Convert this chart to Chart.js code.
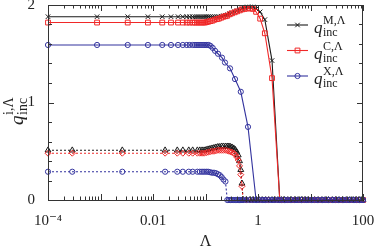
<!DOCTYPE html>
<html>
<head>
<meta charset="utf-8">
<script src="https://cdn.jsdelivr.net/npm/chart.js@4.4.1/dist/chart.umd.min.js"></script>
<style>
  html, body { margin: 0; padding: 0; background: #fff; }
  canvas { display: block; }
</style>
</head>
<body>
<canvas id="myChart1" width="374" height="247"></canvas>
<script>
// solid curves M and C share one Lambda grid
const lambdaMC = [
  1e-4, 8.6e-4, 3.3e-3, 8e-3, 0.015, 0.022, 0.03, 0.037, 0.044, 0.05,
  0.057, 0.063, 0.069, 0.075, 0.082, 0.09, 0.098, 0.106, 0.115, 0.125,
  0.137, 0.15, 0.165, 0.18, 0.2, 0.22, 0.24, 0.26, 0.29, 0.32,
  0.36, 0.4, 0.45, 0.5, 0.56, 0.63, 0.71, 0.8, 0.92, 1.1,
  1.35, 1.85, 2.6, 3.3, 4.2, 5.3, 6.7, 8.5, 10.7, 13.5,
  17, 21.5, 27, 34, 43, 54, 68, 86, 100
];
const qM = [
  1.88, 1.88, 1.88, 1.88, 1.88, 1.88, 1.88, 1.88, 1.88, 1.88,
  1.88, 1.88, 1.88, 1.88, 1.88, 1.88, 1.88, 1.88, 1.88, 1.88,
  1.88, 1.88, 1.88, 1.88, 1.885, 1.89, 1.895, 1.90, 1.91, 1.92,
  1.93, 1.94, 1.95, 1.96, 1.97, 1.98, 1.98, 1.98, 1.96, 1.93,
  1.85, 1.43, 0, 0, 0, 0, 0, 0, 0, 0,
  0, 0, 0, 0, 0, 0, 0, 0, 0
];
const qC = [
  1.82, 1.82, 1.82, 1.82, 1.82, 1.82, 1.82, 1.82, 1.82, 1.82,
  1.82, 1.82, 1.82, 1.82, 1.82, 1.82, 1.82, 1.825, 1.83, 1.835,
  1.84, 1.85, 1.855, 1.86, 1.87, 1.88, 1.885, 1.89, 1.905, 1.915,
  1.925, 1.935, 1.945, 1.955, 1.96, 1.965, 1.965, 1.96, 1.93, 1.86,
  1.71, 1.25, 0, 0, 0, 0, 0, 0, 0, 0,
  0, 0, 0, 0, 0, 0, 0, 0, 0
];

// solid curve X
const lambdaX = [
  1e-4, 8.6e-4, 3.3e-3, 8e-3, 0.015, 0.022, 0.03, 0.037, 0.044, 0.05,
  0.057, 0.063, 0.069, 0.075, 0.082, 0.09, 0.098, 0.106, 0.115, 0.125,
  0.137, 0.152, 0.173, 0.206, 0.235, 0.293, 0.365, 0.47, 0.645, 0.92,
  1.3, 1.85, 2.6, 3.3, 4.2, 5.3, 6.7, 8.5, 10.7, 13.5,
  17, 21.5, 27, 34, 43, 54, 68, 86, 100
];
const qX = [
  1.59, 1.59, 1.59, 1.59, 1.59, 1.59, 1.59, 1.59, 1.59, 1.59,
  1.59, 1.59, 1.59, 1.59, 1.59, 1.59, 1.59, 1.59, 1.59, 1.58,
  1.56, 1.53, 1.50, 1.46, 1.41, 1.35, 1.24, 1.11, 0.75, 0,
  0, 0, 0, 0, 0, 0, 0, 0, 0, 0,
  0, 0, 0, 0, 0, 0, 0, 0, 0
];

// dotted curves (all three)
const lambdaDash = [
  1e-4, 2.9e-4, 2.6e-3, 0.017, 0.029, 0.037, 0.048, 0.057, 0.07, 0.078,
  0.086, 0.094, 0.103, 0.112, 0.122, 0.133, 0.145, 0.158, 0.172, 0.187,
  0.203, 0.22, 0.24, 0.26, 0.28, 0.3, 0.32, 0.345, 0.37, 0.395,
  0.42, 0.445, 0.47, 0.495, 0.52, 0.6, 0.7, 0.8, 0.92, 1.05,
  1.2, 1.4, 1.6, 1.85, 2.1, 2.4, 2.8, 3.2, 3.7, 4.3,
  5, 5.8, 6.7, 7.8, 9, 10.5, 12, 14, 16.5, 19,
  22, 26, 30, 35, 41, 48, 56, 65, 75, 87,
  100
];
const qMDash = [
  0.51, 0.51, 0.51, 0.51, 0.51, 0.51, 0.51, 0.51, 0.51, 0.51,
  0.51, 0.51, 0.515, 0.52, 0.525, 0.53, 0.535, 0.54, 0.545, 0.545,
  0.55, 0.55, 0.55, 0.55, 0.55, 0.545, 0.54, 0.53, 0.515, 0.49,
  0.46, 0.40, 0.31, 0.17, 0, 0, 0, 0, 0, 0,
  0, 0, 0, 0, 0, 0, 0, 0, 0, 0,
  0, 0, 0, 0, 0, 0, 0, 0, 0, 0,
  0, 0, 0, 0, 0, 0, 0, 0, 0, 0,
  0
];
const qCDash = [
  0.48, 0.48, 0.48, 0.48, 0.48, 0.48, 0.48, 0.48, 0.48, 0.48,
  0.48, 0.48, 0.485, 0.49, 0.495, 0.50, 0.50, 0.505, 0.51, 0.51,
  0.51, 0.51, 0.51, 0.505, 0.50, 0.495, 0.49, 0.48, 0.465, 0.44,
  0.41, 0.35, 0.26, 0.14, 0, 0, 0, 0, 0, 0,
  0, 0, 0, 0, 0, 0, 0, 0, 0, 0,
  0, 0, 0, 0, 0, 0, 0, 0, 0, 0,
  0, 0, 0, 0, 0, 0, 0, 0, 0, 0,
  0
];
const qXDash = [
  0.29, 0.29, 0.29, 0.29, 0.29, 0.29, 0.29, 0.29, 0.29, 0.29,
  0.29, 0.29, 0.29, 0.29, 0.285, 0.28, 0.28, 0.275, 0.265, 0.255,
  0.235, 0.21, 0.19, 0, 0, 0, 0, 0, 0, 0,
  0, 0, 0, 0, 0, 0, 0, 0, 0, 0,
  0, 0, 0, 0, 0, 0, 0, 0, 0, 0,
  0, 0, 0, 0, 0, 0, 0, 0, 0, 0,
  0, 0, 0, 0, 0, 0, 0, 0, 0, 0,
  0
];

const xTickLabels = { '-4': '10\u207B\u2074', '-2': '0.01', '0': '1', '2': '100' };
const legendSup = ['M,\u039B', 'C,\u039B', 'X,\u039B'];
const yTitleSup = 'i,\u039B';

const BLACK = '#1a1a1a';
const RED = '#f02828';
const BLUE = '#33339e';
const SERIF = "'Liberation Serif', 'DejaVu Serif', serif";

function pts(xs, ys) {
  return xs.map((v, i) => ({ x: v, y: ys[i] }));
}

function series(xs, ys, color, style, radius, dashed) {
  return {
    data: pts(xs, ys),
    borderColor: color,
    borderWidth: 1.1,
    borderDash: dashed ? [2, 2] : [],
    pointStyle: style,
    pointRadius: radius,
    pointBorderWidth: 1,
    pointBorderColor: color,
    pointBackgroundColor: 'rgba(0,0,0,0)',
    tension: 0,
    clip: false
  };
}

// draws q_inc^{sup}: q italic, then subscript and superscript
function drawQ(ctx, x, base, sup, big, small) {
  ctx.font = 'italic ' + big + 'px ' + SERIF;
  ctx.fillText('q', x, base);
  const w = ctx.measureText('q').width + 0.5;
  ctx.font = small + 'px ' + SERIF;
  ctx.fillText('inc', x + w, base + small * 0.25);
  ctx.fillText(sup, x + w, base - small * 0.75);
}

const decorations = {
  id: 'decorations',
  afterDatasetsDraw(chart) {
    const { ctx, chartArea: a, scales: { x, y } } = chart;
    ctx.save();
    ctx.strokeStyle = '#333';
    ctx.lineWidth = 1;
    ctx.beginPath();
    // minor / major ticks pointing inward on all sides
    for (let k = 0; k <= 10; k++) {
      const py = Math.round(y.getPixelForValue(k * 0.2)) + 0.5;
      const len = k % 5 === 0 ? 6 : 4;
      ctx.moveTo(a.left, py); ctx.lineTo(a.left + len, py);
      ctx.moveTo(a.right, py); ctx.lineTo(a.right - len, py);
    }
    for (let e = -4; e <= 2; e++) {
      for (let m = 1; m <= 9; m++) {
        if (e === 2 && m > 1) break;
        const px = Math.round(x.getPixelForValue(m * Math.pow(10, e))) + 0.5;
        const len = m === 1 ? 6 : 3.5;
        ctx.moveTo(px, a.bottom); ctx.lineTo(px, a.bottom - len);
        ctx.moveTo(px, a.top); ctx.lineTo(px, a.top + len);
      }
    }
    ctx.stroke();
    ctx.strokeRect(a.left + 0.5, a.top + 0.5, a.right - a.left - 1, a.bottom - a.top);
    ctx.restore();
  },
  afterDraw(chart) {
    const { ctx } = chart;
    const ds = chart.data.datasets;
    ctx.save();
    ctx.fillStyle = '#222';
    ctx.textBaseline = 'alphabetic';
    // legend (solid curves only)
    [4, 2, 0].forEach((idx, row) => {
      const d = ds[idx];
      const ly = 25 + row * 25.5;
      ctx.strokeStyle = d.borderColor;
      ctx.lineWidth = 1.1;
      ctx.beginPath();
      ctx.moveTo(287, ly); ctx.lineTo(308, ly);
      ctx.stroke();
      ctx.fillStyle = 'rgba(0,0,0,0)';
      ctx.lineWidth = 1;
      Chart.helpers.drawPoint(ctx, { pointStyle: d.pointStyle, radius: d.pointRadius, rotation: 0, borderWidth: 1 }, 297.5, ly);
      ctx.fillStyle = '#222';
      drawQ(ctx, 314, ly + 8, legendSup[row], 17, 12);
    });
    // y axis title, rotated
    ctx.translate(23, 125);
    ctx.rotate(-Math.PI / 2);
    drawQ(ctx, 0, 0, yTitleSup, 19, 14);
    ctx.restore();
  }
};

const ctx = document.getElementById('myChart1').getContext('2d');
const myChart1 = new Chart(ctx, {
  type: 'line',
  data: {
    datasets: [
      series(lambdaX, qX, BLUE, 'circle', 2.6, false),
      series(lambdaDash, qXDash, BLUE, 'circle', 2.6, true),
      series(lambdaMC, qC, RED, 'rect', 3.4, false),
      series(lambdaDash, qCDash, RED, 'rectRot', 3, true),
      series(lambdaMC, qM, BLACK, 'crossRot', 3.2, false),
      series(lambdaDash, qMDash, BLACK, 'triangle', 3.4, true)
    ]
  },
  options: {
    responsive: false,
    animation: false,
    devicePixelRatio: 1,
    layout: { padding: { left: 0, top: 5, right: 11, bottom: 0 } },
    plugins: { legend: { display: false }, tooltip: { enabled: false } },
    scales: {
      x: {
        type: 'logarithmic',
        min: 1e-4,
        max: 100,
        grid: { display: false, drawTicks: false },
        border: { display: false },
        ticks: {
          autoSkip: false,
          maxRotation: 0,
          padding: 12,
          color: '#222',
          font: { family: SERIF, size: 15 },
          callback: (v) => {
            const e = Math.round(Math.log10(v));
            if (Math.abs(Math.log10(v) - e) > 1e-6) return '';
            return xTickLabels[String(e)] || '';
          }
        },
        title: {
          display: true,
          text: '\u039B',
          color: '#222',
          font: { family: SERIF, size: 16, lineHeight: 1 },
          padding: { top: 0, bottom: -3 }
        },
        afterFit: (s) => { s.height = 47; s.paddingLeft = 0; s.paddingRight = 0; }
      },
      y: {
        min: 0,
        max: 2,
        grid: { display: false, drawTicks: false },
        border: { display: false },
        ticks: {
          stepSize: 1,
          padding: 13,
          color: '#222',
          font: { family: SERIF, size: 15 }
        },
        afterFit: (s) => { s.width = 48; s.paddingTop = 0; s.paddingBottom = 0; }
      }
    }
  },
  plugins: [decorations]
});
</script>
</body>
</html>
